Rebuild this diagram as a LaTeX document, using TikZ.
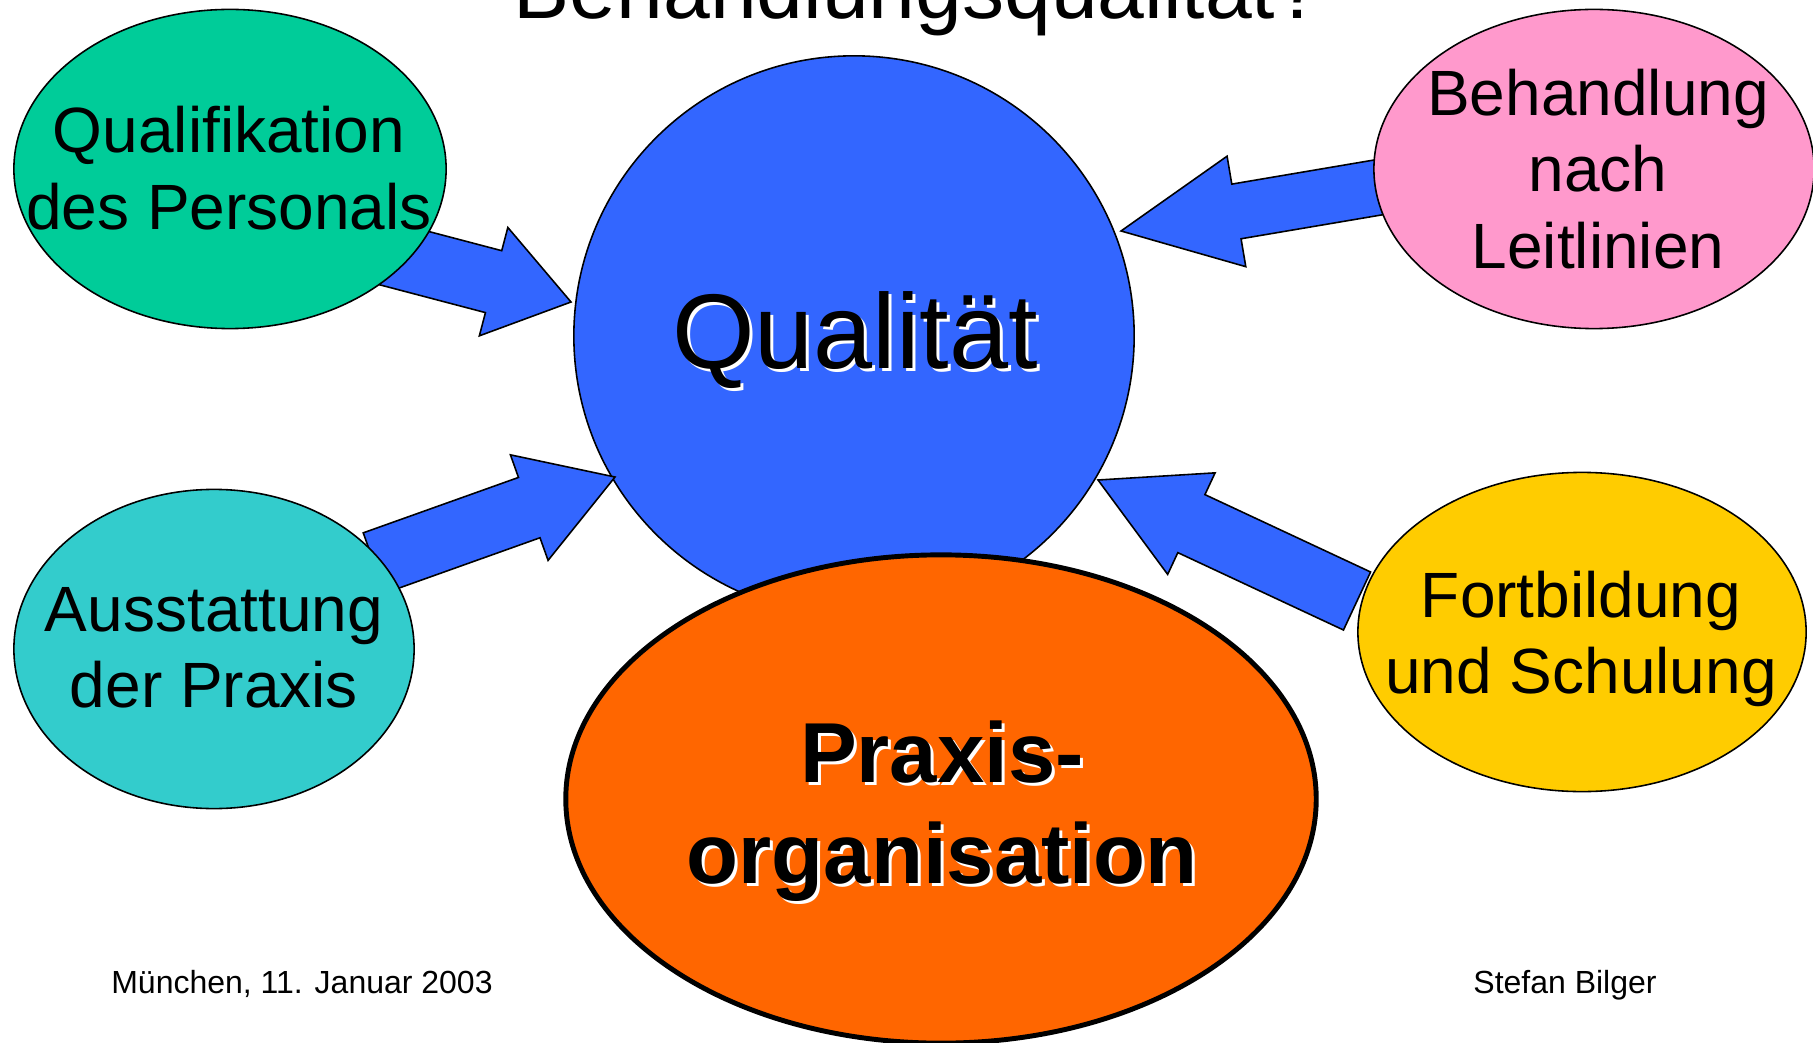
\documentclass[tikz,border=0pt]{standalone}
\usepackage{fontspec}
\setmainfont{Liberation Sans}
\usetikzlibrary{calc,shapes.geometric}

\definecolor{qblue}{HTML}{3366FF}
\definecolor{qgreen}{HTML}{00CC99}
\definecolor{qcyan}{HTML}{33CCCC}
\definecolor{qpink}{HTML}{FF99CC}
\definecolor{qyellow}{HTML}{FFCC00}
\definecolor{qorange}{HTML}{FF6600}

% fat arrow: #1 tail, #2 tip, #3 half shaft, #4 half head, #5 head length
\newcommand{\blockarrow}[5]{%
  \coordinate (neck) at ($(#2)!#5!(#1)$);
  \draw[blockarr] ($(#1)!#3!90:(#2)$) -- ($(neck)!#3!90:(#2)$)
    -- ($(neck)!#4!90:(#2)$) -- (#2) -- ($(neck)!#4!-90:(#2)$)
    -- ($(neck)!#3!-90:(#2)$) -- ($(#1)!#3!-90:(#2)$) -- cycle;
}

\begin{document}
\begin{tikzpicture}[x=0.01cm, y=-0.01cm,
  bubble/.style={ellipse, draw, line width=0.45pt, inner sep=0pt},
  blockarr/.style={draw, fill=qblue, line width=0.45pt, line join=miter},
  bubbletext/.style={align=center, inner sep=0pt,
    font=\fontsize{18.2}{21.7}\selectfont},
  bigtext/.style={anchor=base, inner sep=0pt,
    font=\fontsize{30.2}{36}\selectfont},
  praxtext/.style={align=center, inner sep=0pt,
    font=\fontsize{24.2}{28.7}\selectfont\bfseries},
  foot/.style={anchor=base, inner sep=0pt, font=\fontsize{9.1}{11}\selectfont},
  ]
  \clip (0,0) rectangle (1813,1043);
  \fill[white] (0,0) rectangle (1813,1043);

  \node[anchor=base, inner sep=0pt, font=\fontsize{23.9}{28}\selectfont]
    (title) at (918,19) {Behandlungsqualität?};

  % center
  \node[circle, draw, fill=qblue, line width=0.45pt, inner sep=0pt,
    minimum size=5.6cm] (qual) at (854,336) {};

  % arrows first, the bubbles hide their tails
  \coordinate (tail1) at (358,246);  \coordinate (tip1) at (571,302);
  \coordinate (tail2) at (1416,181); \coordinate (tip2) at (1121,231);
  \coordinate (tail3) at (374,563);  \coordinate (tip3) at (615,477);
  \coordinate (tail4) at (1357,601); \coordinate (tip4) at (1098,480);
  \foreach \i/\sw/\hl in {1/0.32cm/0.80cm, 2/0.277cm/1.17cm,
                          3/0.32cm/0.91cm, 4/0.32cm/1.03cm} {
    \blockarrow{tail\i}{tip\i}{\sw}{0.56cm}{\hl}
  }

  \node[bubble, fill=qgreen, minimum width=4.32cm, minimum height=3.19cm]
    (personal) at (230,169) {};
  \node[bubble, fill=qpink, minimum width=4.40cm, minimum height=3.19cm]
    (leitlinien) at (1594,169) {};
  \node[bubble, fill=qcyan, minimum width=4.00cm, minimum height=3.19cm]
    (ausstattung) at (214,649) {};
  \node[bubble, fill=qyellow, minimum width=4.48cm, minimum height=3.19cm]
    (fortbildung) at (1582,632) {};

  \node[ellipse, draw, fill=qorange, line width=1.4pt, inner sep=0pt,
    minimum width=7.50cm, minimum height=4.88cm] (praxis) at (941,799) {};

  % texts
  \node[bubbletext] (personal-t) at (229,168) {Qualifikation\\des Personals};
  \node[bubbletext] (leitlinien-t) at (1598,169) {Behandlung\\nach\\Leitlinien};
  \node[bubbletext] (ausstattung-t) at (214,648) {Ausstattung\\der Praxis};
  \node[bubbletext] (fortbildung-t) at (1581,639) {Fortbildung\\und Schulung};

  \node[bigtext, white] (qual-sh) at (858,371) {Qualität};
  \node[bigtext] (qual-t) at (855,368) {Qualität};

  \node[praxtext, white] (praxis-sh) at (945,814) {Praxis-\\organisation};
  \node[praxtext] (praxis-t) at (942,811) {Praxis-\\organisation};

  \node[foot] (ort) at (302,993) {München, 11. Januar 2003};
  \node[foot] (autor) at (1565,993) {Stefan Bilger};
\end{tikzpicture}
\end{document}
